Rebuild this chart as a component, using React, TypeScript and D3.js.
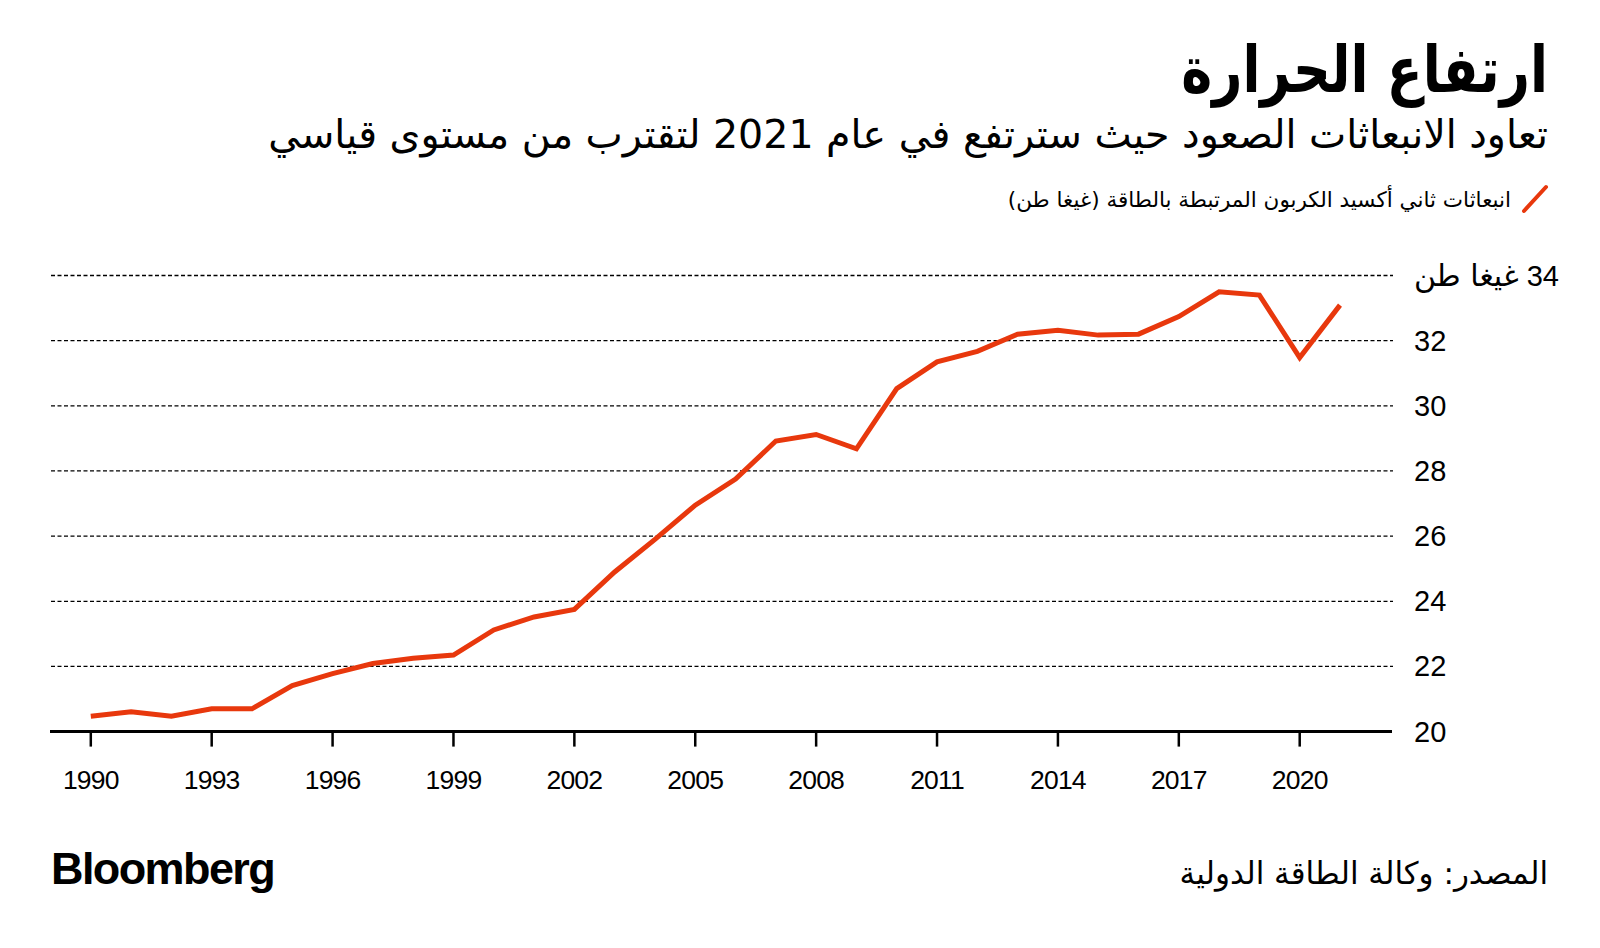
import React from "react";
import * as d3 from "d3";

const years = [1990,1991,1992,1993,1994,1995,1996,1997,1998,1999,2000,2001,2002,2003,2004,2005,2006,2007,2008,2009,2010,2011,2012,2013,2014,2015,2016,2017,2018,2019,2020,2021];
const emissions = [20.47,20.61,20.47,20.7,20.7,21.41,21.78,22.09,22.25,22.35,23.12,23.52,23.75,24.9,25.9,26.95,27.75,28.92,29.12,28.68,30.53,31.35,31.67,32.2,32.32,32.17,32.2,32.74,33.5,33.4,31.48,33.09];
const xTicks = [1990,1993,1996,1999,2002,2005,2008,2011,2014,2017,2020];
const yTicks = [20,22,24,26,28,30,32,34];

const title = "ارتفاع الحرارة";
const subtitle = "تعاود الانبعاثات الصعود حيث سترتفع في عام 2021 لتقترب من مستوى قياسي";
const legendLabel = "انبعاثات ثاني أكسيد الكربون المرتبطة بالطاقة (غيغا طن)";
const unitLabel = "غيغا طن";
const source = "المصدر: وكالة الطاقة الدولية";

const RED = "#e8380d";
const AR = "'DejaVu Sans', sans-serif";
const NUM = "'Liberation Sans', Arial, sans-serif";

export default function App() {
  const x = d3.scaleLinear().domain([1990, 2021]).range([90.8, 1340]);
  const y = d3.scaleLinear().domain([20, 34]).range([731.6, 275.5]);
  const line = d3.line<number>().x((_, i) => x(years[i])).y((d) => y(d));
  const right = 1548;

  return (
    <svg width={1600} height={948} style={{ position: "absolute", left: 0, top: 0, background: "#fff" }}>
      <rect width={1600} height={948} fill="#fff" />
      <g transform={`translate(${right},92) scale(0.82,1)`}>
        <text x={0} y={0} direction="rtl" textAnchor="start" fontFamily={AR} fontWeight="bold" fontSize={64} fill="#000">{title}</text>
      </g>
      <text x={right} y={148} direction="rtl" textAnchor="start" fontFamily={AR} fontSize={39.5} fill="#000">{subtitle}</text>
      <line x1={1524} y1={211} x2={1546} y2={187} stroke={RED} strokeWidth={4} strokeLinecap="round" />
      <text x={1511} y={207} direction="rtl" textAnchor="start" fontFamily={AR} fontSize={21.5} fill="#000">{legendLabel}</text>

      {yTicks.filter((t) => t !== 20).map((t) => (
        <line key={t} x1={51} x2={1393} y1={y(t)} y2={y(t)} stroke="#000" strokeWidth={1.3} strokeDasharray="4,2.5" />
      ))}
      {yTicks.map((t) => (
        t === 34 ? (
          <text key={t} x={1414} y={y(t) + 10} direction="rtl" textAnchor="end" fontFamily={NUM} fontSize={29} fill="#000">
            <tspan fontFamily={NUM}>{t}</tspan> <tspan fontFamily={AR} fontSize={30}>{unitLabel}</tspan>
          </text>
        ) : (
          <text key={t} x={1414} y={y(t) + 10} textAnchor="start" fontFamily={NUM} fontSize={29} fill="#000">{t}</text>
        )
      ))}

      <path d={line(emissions) || ""} fill="none" stroke={RED} strokeWidth={5} strokeLinejoin="miter" />

      <line x1={50} x2={1392} y1={y(20)} y2={y(20)} stroke="#000" strokeWidth={3} />
      {xTicks.map((t) => (
        <g key={t}>
          <line x1={x(t)} x2={x(t)} y1={y(20)} y2={y(20) + 15} stroke="#000" strokeWidth={2.5} />
          <text x={x(t)} y={789} textAnchor="middle" fontFamily={NUM} fontSize={26.5} letterSpacing={-0.8} fill="#000">{t}</text>
        </g>
      ))}

      <text x={51} y={884} fontFamily={NUM} fontWeight="bold" fontSize={45} letterSpacing={-1.6} fill="#000">Bloomberg</text>
      <text x={right} y={884} direction="rtl" textAnchor="start" fontFamily={AR} fontSize={31} fill="#000">{source}</text>
    </svg>
  );
}
